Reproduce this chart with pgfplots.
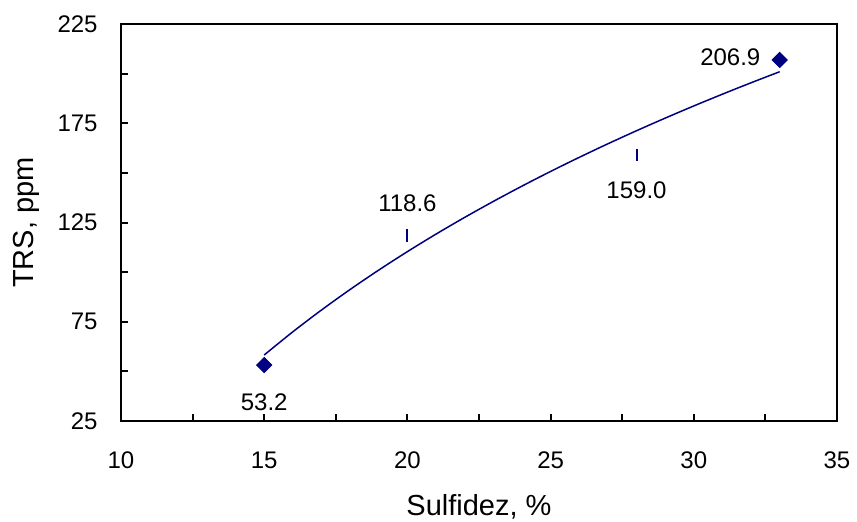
\documentclass[border=0pt]{standalone}
\usepackage{fontspec}
\setmainfont{Liberation Sans}
\usepackage{pgfplots}
\pgfplotsset{compat=1.18}
\definecolor{navy}{HTML}{000080}
\begin{document}
\begin{tikzpicture}
\path[use as bounding box] (-60.5pt,-50pt) rectangle (368pt,210.5pt);
\begin{axis}[
  at={(0,0)}, anchor=south west,
  scale only axis, width=358pt, height=198.5pt,
  xmin=10, xmax=35, ymin=25, ymax=225,
  xtick={10,15,...,35}, ytick={25,75,...,225},
  minor xtick={12.5,17.5,...,32.5}, minor ytick={50,100,...,200},
  tick align=inside, major tick length=3.5pt, minor tick length=3.5pt,
  xtick pos=left, ytick pos=left,
  axis line style={line width=1pt},
  every tick/.style={line width=1pt, black},
  every minor tick/.style={line width=1pt, black},
  /pgf/number format/assume math mode=true,
  tick label style={font=\fontsize{12}{14}\selectfont},
  xticklabel style={anchor=north, inner sep=0pt, yshift=-15.3pt},
  yticklabel style={anchor=east, inner sep=0pt, xshift=-11.5pt},
  xlabel={Sulfidez, \%}, ylabel={TRS, ppm},
  label style={font=\fontsize{14.5}{17}\selectfont},
  xlabel style={at={(axis description cs:0.5,-0.2368)}, anchor=base, inner sep=0pt},
  ylabel style={at={(axis description cs:-0.1229,0.5)}, anchor=base, inner sep=0pt},
  clip=false,
]
% trend line (logarithmic)
\addplot[navy, line width=0.75pt, smooth, no markers] coordinates {
  (15,58.26) (16,69.94) (17,80.91) (18,91.26) (19,101.04) (20,110.33)
  (21,119.16) (22,127.58) (23,135.62) (24,143.33) (25,150.72) (26,157.82)
  (27,164.65) (28,171.23) (29,177.58) (30,183.72) (31,189.65) (32,195.40)
  (33,200.97)
};
% diamond points
\addplot[only marks, mark=square*, mark size=2.7pt, navy,
  mark options={rotate=45, fill=navy, draw=navy}] coordinates {
  (15,53.2) (33,206.9)
};
% dash points
\addplot[only marks, mark=|, mark size=3.2pt, navy,
  mark options={line width=1pt}] coordinates {
  (20,118.6) (28,159.0)
};
\begin{scope}[font=\fontsize{12}{14}\selectfont]
\node[yshift=-18.5pt] at (axis cs:15,53.2) {53.2};
\node[yshift=16pt] at (axis cs:20,118.6) {118.6};
\node[yshift=-17.5pt] at (axis cs:28,159.0) {159.0};
\node[anchor=east, inner sep=0pt, xshift=-9.5pt, yshift=1.5pt] at (axis cs:33,206.9) {206.9};
\end{scope}
\end{axis}
\end{tikzpicture}
\end{document}
